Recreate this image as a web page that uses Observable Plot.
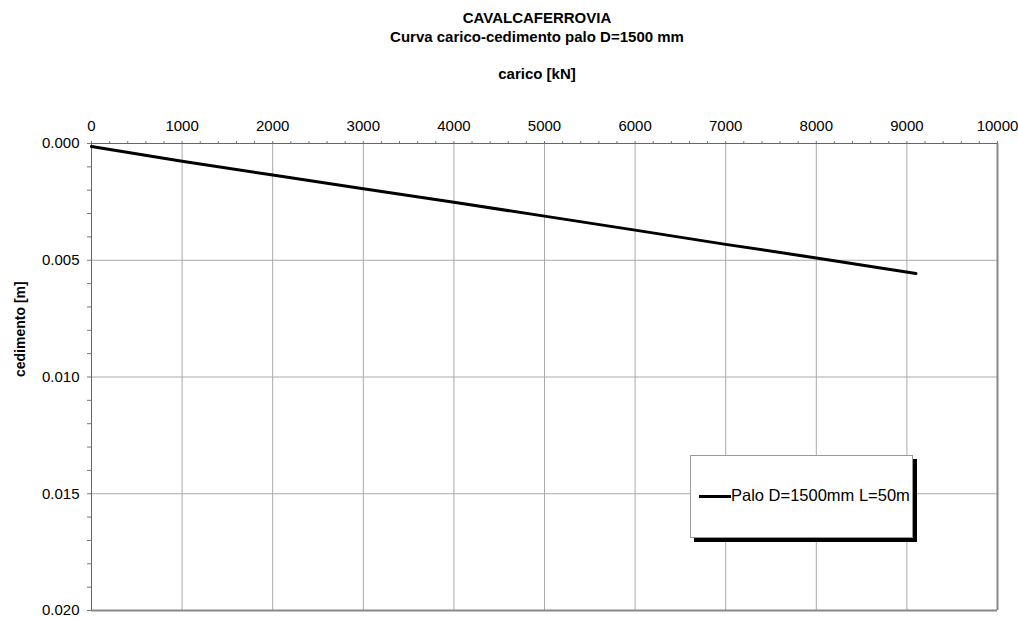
<!DOCTYPE html>
<html>
<head>
<meta charset="utf-8">
<script src="https://cdn.jsdelivr.net/npm/d3@7"></script>
<script src="https://cdn.jsdelivr.net/npm/@observablehq/plot@0.6"></script>
<style>
  html, body { margin: 0; padding: 0; background: #fff; }
  #wrap { position: relative; width: 1018px; height: 617px; font-family: "Liberation Sans", Arial, sans-serif; }
  .t { position: absolute; left: 0; width: 1074px; text-align: center; font-weight: bold; font-size: 15px; color: #000; }
  #legend { position: absolute; left: 690px; top: 455px; width: 221px; height: 81px; border: 1px solid #999; background: #fff; box-shadow: 4px 4px 0 #000; }
  #legend .sw { position: absolute; left: 8px; top: 39px; width: 32px; height: 3px; background: #000; }
  #legend .lb { position: absolute; left: 40px; top: 30px; font-size: 16.5px; color: #000; white-space: nowrap; }
</style>
</head>
<body>
<div id="wrap">
  <div id="chart"></div>
  <div class="t" style="top:9px">CAVALCAFERROVIA</div>
  <div class="t" style="top:28px">Curva carico-cedimento palo D=1500 mm</div>
  <div class="t" style="top:65px">carico [kN]</div>
  <div id="legend"><div class="sw"></div><div class="lb">Palo D=1500mm L=50m</div></div>
</div>
<script>
const carico = [0, 1000, 2000, 3000, 4000, 5000, 6000, 7000, 8000, 9100];
const cedimento = [0.00013, 0.00076, 0.00135, 0.00194, 0.00252, 0.00311, 0.00371, 0.00432, 0.00490, 0.00557];
const seriesName = "Palo D=1500mm L=50m";
const xMajorTicks = [0, 1000, 2000, 3000, 4000, 5000, 6000, 7000, 8000, 9000, 10000];
const xMinorTicks = d3.range(0, 10001, 200);
const yMajorTicks = [0, 0.005, 0.010, 0.015, 0.020];
const yMinorTicks = d3.range(0, 21).map(i => i / 1000);

const data = carico.map((c, i) => ({carico: c, cedimento: cedimento[i], serie: seriesName}));

const chart = Plot.plot({
  width: 1018,
  height: 617,
  marginLeft: 91,
  marginRight: 21,
  marginTop: 143,
  marginBottom: 7,
  style: {fontFamily: "'Liberation Sans', Arial, sans-serif", fontSize: "15px", color: "#000", background: "#fff"},
  x: {domain: [0, 10000]},
  y: {domain: [0, 0.02], reverse: true},
  marks: [
    Plot.gridX(xMajorTicks, {stroke: "#aaa", strokeOpacity: 1}),
    Plot.gridY(yMajorTicks, {stroke: "#aaa", strokeOpacity: 1}),
    Plot.axisX(xMinorTicks, {anchor: "top", tickSize: 3, text: null, stroke: "#777", label: null}),
    Plot.axisX(xMajorTicks, {anchor: "top", tickSize: 0, tickPadding: 13, tickFormat: d => String(d), label: null, fontSize: 15}),
    Plot.axisY(yMinorTicks, {anchor: "left", tickSize: 4, text: null, stroke: "#777", label: null}),
    Plot.axisY(yMajorTicks, {anchor: "left", tickSize: 0, tickPadding: 12, tickFormat: d3.format(".3f"), label: null, fontSize: 15}),
    Plot.ruleX([10000], {stroke: "#888", strokeWidth: 2}),
    Plot.ruleY([0.02], {stroke: "#888", strokeWidth: 2}),
    Plot.ruleX([0], {stroke: "#666", strokeWidth: 1}),
    Plot.ruleY([0], {stroke: "#666", strokeWidth: 1}),
    Plot.line(data, {x: "carico", y: "cedimento", stroke: "#000", strokeWidth: 3}),
    Plot.text(["cedimento [m]"], {frameAnchor: "left", dx: -71, rotate: -90, fontWeight: "bold", fontSize: 14, text: d => d})
  ]
});
document.getElementById("chart").appendChild(chart);
</script>
</body>
</html>
